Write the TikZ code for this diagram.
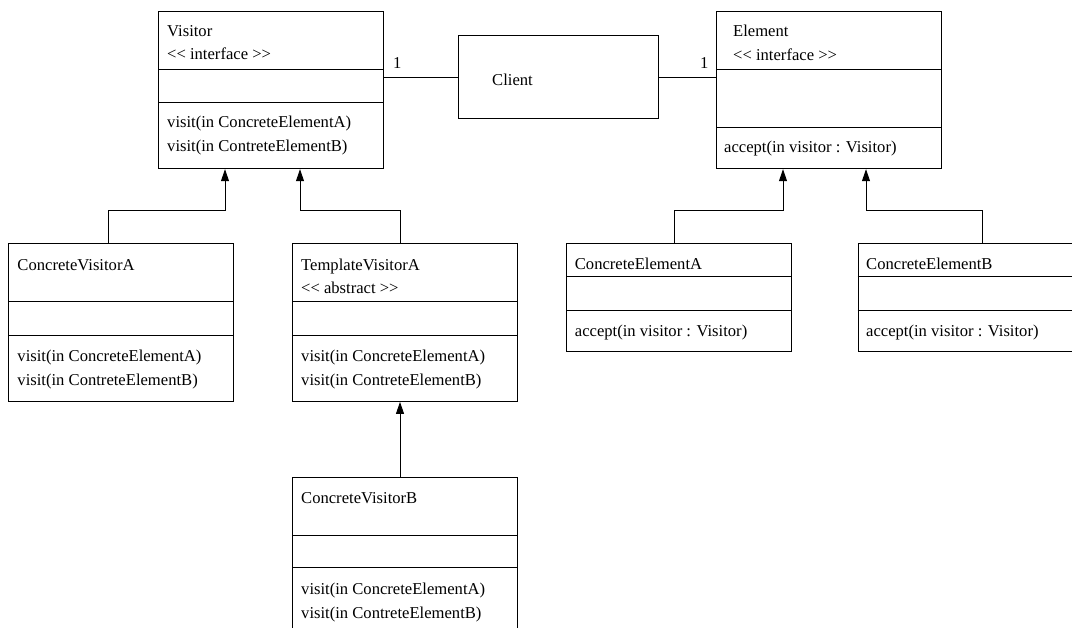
\documentclass[tikz,border=0pt]{standalone}
\usepackage{fontspec}
\setmainfont{Liberation Serif}
\usetikzlibrary{arrows.meta}
\tikzset{
  cls/.style={draw, line width=0.9bp, rectangle, inner sep=0pt, anchor=north west},
  txt/.style={anchor=base west, inner sep=0pt, font=\fontsize{16.6bp}{24bp}\selectfont},
  dv/.style={line width=0.9bp},
  assoc/.style={line width=0.9bp},
  gen/.style={line width=0.9bp, -{Triangle[length=12bp,width=8bp]}}
}
\begin{document}
\begin{tikzpicture}[x=1bp,y=-1bp]
\useasboundingbox (0,0) rectangle (1072,628);
\clip (0,0) rectangle (1072,628);

% Visitor
\node[cls, minimum width=225bp, minimum height=157.6bp] (vis) at (158.3,10.7) {};
\draw[dv] (vis.west |- 0,69) -- (vis.east |- 0,69);
\draw[dv] (vis.west |- 0,102) -- (vis.east |- 0,102);
\node[txt] (visN) at (167,37) {Visitor};
\node[txt] (visS) at (167,60) {<{}< interface >{}>};
\node[txt] (visM1) at (167,128) {visit(in ConcreteElementA)};
\node[txt] (visM2) at (167,152) {visit(in ContreteElementB)};

% Client
\node[cls, minimum width=200bp, minimum height=83.3bp] (client) at (458.3,35) {};
\node[txt] (clientN) at (492,86) {Client};

% Element
\node[cls, minimum width=225bp, minimum height=157.6bp] (elem) at (716,10.7) {};
\draw[dv] (elem.west |- 0,69) -- (elem.east |- 0,69);
\draw[dv] (elem.west |- 0,127) -- (elem.east |- 0,127);
\node[txt] (elemN) at (733,37) {Element};
\node[txt] (elemS) at (733,61) {<{}< interface >{}>};
\node[txt] (elemM) at (724,153) {accept(in visitor : Visitor)};

% associations
\draw[assoc] (client.west) -- (client.west -| vis.east);
\draw[assoc] (client.east) -- (client.east -| elem.west);
\node[txt] (m1) at (393,69) {1};
\node[txt] (m2) at (700,69) {1};

% ConcreteVisitorA
\node[cls, minimum width=225bp, minimum height=157.7bp] (cva) at (8.3,243.3) {};
\draw[dv] (cva.west |- 0,301.7) -- (cva.east |- 0,301.7);
\draw[dv] (cva.west |- 0,335) -- (cva.east |- 0,335);
\node[txt] (cvaN) at (17.3,270.5) {ConcreteVisitorA};
\node[txt] (cvaM1) at (17.3,361) {visit(in ConcreteElementA)};
\node[txt] (cvaM2) at (17.3,385) {visit(in ContreteElementB)};

% TemplateVisitorA
\node[cls, minimum width=224.7bp, minimum height=157.7bp] (tva) at (292,243.3) {};
\draw[dv] (tva.west |- 0,301.7) -- (tva.east |- 0,301.7);
\draw[dv] (tva.west |- 0,335) -- (tva.east |- 0,335);
\node[txt] (tvaN) at (301,270.5) {TemplateVisitorA};
\node[txt] (tvaS) at (301,294) {<{}< abstract >{}>};
\node[txt] (tvaM1) at (301,361) {visit(in ConcreteElementA)};
\node[txt] (tvaM2) at (301,385) {visit(in ContreteElementB)};

% ConcreteVisitorB
\node[cls, minimum width=224.7bp, minimum height=157.7bp] (cvb) at (292,476.7) {};
\draw[dv] (cvb.west |- 0,535) -- (cvb.east |- 0,535);
\draw[dv] (cvb.west |- 0,567.7) -- (cvb.east |- 0,567.7);
\node[txt] (cvbN) at (301,503) {ConcreteVisitorB};
\node[txt] (cvbM1) at (301,594) {visit(in ConcreteElementA)};
\node[txt] (cvbM2) at (301,618) {visit(in ContreteElementB)};

% ConcreteElementA
\node[cls, minimum width=225bp, minimum height=107.7bp] (cea) at (566,243.3) {};
\draw[dv] (cea.west |- 0,276.7) -- (cea.east |- 0,276.7);
\draw[dv] (cea.west |- 0,310) -- (cea.east |- 0,310);
\node[txt] (ceaN) at (574.7,270) {ConcreteElementA};
\node[txt] (ceaM) at (574.7,336) {accept(in visitor : Visitor)};

% ConcreteElementB
\node[cls, minimum width=225bp, minimum height=107.7bp] (ceb) at (857.7,243.3) {};
\draw[dv] (ceb.west |- 0,276.7) -- (ceb.east |- 0,276.7);
\draw[dv] (ceb.west |- 0,310) -- (ceb.east |- 0,310);
\node[txt] (cebN) at (866,270) {ConcreteElementB};
\node[txt] (cebM) at (866,336) {accept(in visitor : Visitor)};

% generalizations
\draw[gen] ([xshift=100bp]cva.north west) -- ++(0,-32.6) -| ([xshift=66.7bp]vis.south west);
\draw[gen] ([xshift=108bp]tva.north west) -- ++(0,-32.6) -| ([xshift=141.7bp]vis.south west);
\draw[gen] ([xshift=108bp]cvb.north west) -- ([xshift=108bp]tva.south west);
\draw[gen] ([xshift=108.7bp]cea.north west) -- ++(0,-33.3) -| ([xshift=67bp]elem.south west);
\draw[gen] ([xshift=124.3bp]ceb.north west) -- ++(0,-33.3) -| ([xshift=150bp]elem.south west);
\end{tikzpicture}
\end{document}
